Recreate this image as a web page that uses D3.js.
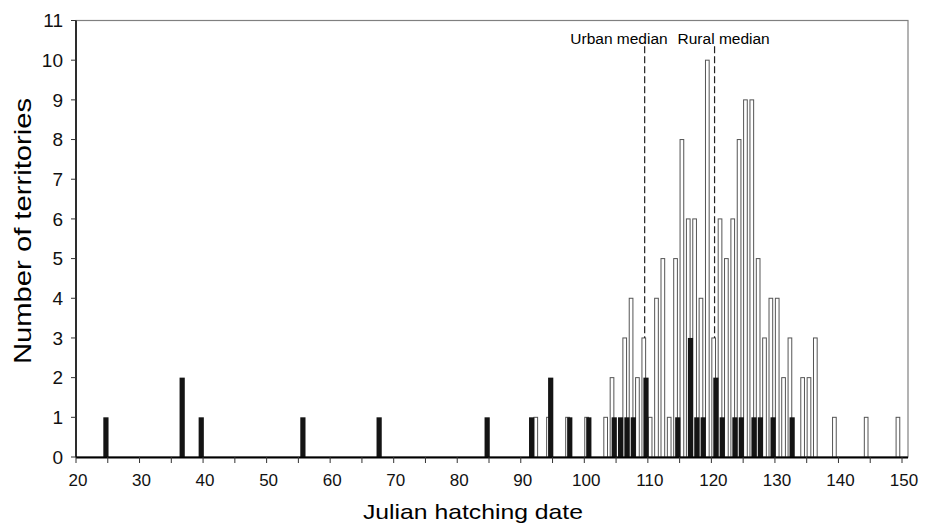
<!DOCTYPE html>
<html>
<head>
<meta charset="utf-8">
<script src="https://cdn.jsdelivr.net/npm/d3@7"></script>
<style>
  body { margin: 0; background: #fff; }
  svg { font-family: "Liberation Sans", Arial, sans-serif; }
</style>
</head>
<body>
<div id="chart"></div>
<script>
// Rural territories (white bars)
const ruralDays   = [92, 94, 97, 100, 103, 104, 106, 107, 108, 109, 110, 111, 112, 113, 114, 115, 116, 117, 118, 119, 120, 121, 122, 123, 124, 125, 126, 127, 128, 129, 130, 131, 132, 134, 135, 136, 139, 144, 149];
const ruralCounts = [1, 1, 1, 1, 1, 2, 3, 4, 2, 3, 1, 4, 5, 1, 5, 8, 6, 6, 4, 10, 3, 6, 5, 6, 8, 9, 9, 5, 3, 4, 4, 2, 3, 2, 2, 3, 1, 1, 1];

// Urban territories (black bars)
const urbanDays   = [24, 36, 39, 55, 67, 84, 91, 94, 97, 100, 104, 105, 106, 107, 109, 114, 116, 117, 118, 120, 121, 123, 124, 126, 127, 129, 132];
const urbanCounts = [1, 2, 1, 1, 1, 1, 1, 2, 1, 1, 1, 1, 1, 1, 2, 1, 3, 1, 1, 2, 1, 1, 1, 1, 1, 1, 1];

// Medians (centre of the category)
const medianLabels = ["Urban median", "Rural median"];
const medianValues = [109.5, 120.5];

const xTicks = d3.range(20, 151, 5);
const xLabels = d3.range(20, 151, 10);
const yTicks = d3.range(0, 12, 1);

const W = 935, H = 527;
const plotL = 76, plotR = 908, plotT = 20.5, plotB = 457;

const svg = d3.select("#chart").append("svg")
  .attr("width", W)
  .attr("height", H);

const x = d3.scaleLinear().domain([20, 150]).range([plotL, 902]);
const y = d3.scaleLinear().domain([0, 11]).range([plotB, plotT]);
const dayW = x(21) - x(20);

// plot frame
svg.append("rect")
  .attr("x", plotL).attr("y", plotT)
  .attr("width", plotR - plotL).attr("height", plotB - plotT)
  .attr("fill", "none").attr("stroke", "#808080").attr("stroke-width", 1.2);

const rural = ruralDays.map((d, i) => ({day: d, n: ruralCounts[i]}));
const urban = urbanDays.map((d, i) => ({day: d, n: urbanCounts[i]}));

// white bars (behind)
svg.append("g").selectAll("rect").data(rural).enter().append("rect")
  .attr("x", d => x(d.day + 0.07))
  .attr("y", d => y(d.n))
  .attr("width", dayW * 0.58)
  .attr("height", d => y(0) - y(d.n))
  .attr("fill", "#fff")
  .attr("stroke", "#555")
  .attr("stroke-width", 1);

// black bars (front)
svg.append("g").selectAll("rect").data(urban).enter().append("rect")
  .attr("x", d => x(d.day + 0.3))
  .attr("y", d => y(d.n))
  .attr("width", dayW * 0.82)
  .attr("height", d => y(0) - y(d.n))
  .attr("fill", "#141414");

// median lines
medianValues.forEach(m => {
  svg.append("line")
    .attr("x1", x(m)).attr("x2", x(m))
    .attr("y1", y(10.35)).attr("y2", y(3))
    .attr("stroke", "#222")
    .attr("stroke-width", 1.2)
    .attr("stroke-dasharray", "7,3");
});
svg.append("text")
  .attr("x", x(medianValues[0]) + 23).attr("y", 43.5)
  .attr("text-anchor", "end")
  .attr("font-size", 15.5)
  .text(medianLabels[0]);
svg.append("text")
  .attr("x", x(medianValues[1]) - 37).attr("y", 43.5)
  .attr("text-anchor", "start")
  .attr("font-size", 15.5)
  .text(medianLabels[1]);

// x axis
const xAxis = svg.append("g");
xAxis.append("line")
  .attr("x1", plotL).attr("x2", plotR)
  .attr("y1", plotB + 0.5).attr("y2", plotB + 0.5)
  .attr("stroke", "#000").attr("stroke-width", 2);
xAxis.selectAll("line.tick").data(xTicks).enter().append("line")
  .attr("class", "tick")
  .attr("x1", d => x(d)).attr("x2", d => x(d))
  .attr("y1", plotB).attr("y2", plotB + 6)
  .attr("stroke", "#333").attr("stroke-width", 1);
xAxis.selectAll("text").data(xLabels).enter().append("text")
  .attr("x", d => x(d) + 2)
  .attr("y", 486)
  .attr("text-anchor", "middle")
  .attr("font-size", 17)
  .attr("fill", "#111")
  .text(d => d);

// y axis
const yAxis = svg.append("g");
yAxis.append("line")
  .attr("x1", plotL).attr("x2", plotL)
  .attr("y1", plotT).attr("y2", plotB)
  .attr("stroke", "#000").attr("stroke-width", 1.5);
yAxis.selectAll("line.tick").data(yTicks).enter().append("line")
  .attr("class", "tick")
  .attr("x1", plotL - 5).attr("x2", plotL)
  .attr("y1", d => y(d)).attr("y2", d => y(d))
  .attr("stroke", "#333").attr("stroke-width", 1);
yAxis.selectAll("text").data(yTicks).enter().append("text")
  .attr("x", 63)
  .attr("y", d => y(d))
  .attr("dy", "0.36em")
  .attr("text-anchor", "end")
  .attr("font-size", 19)
  .attr("fill", "#111")
  .text(d => d);

// axis titles
svg.append("text")
  .attr("x", 473).attr("y", 519)
  .attr("text-anchor", "middle")
  .attr("font-size", 21)
  .attr("textLength", 220)
  .attr("lengthAdjust", "spacingAndGlyphs")
  .text("Julian hatching date");

svg.append("text")
  .attr("transform", "translate(31,231) rotate(-90)")
  .attr("text-anchor", "middle")
  .attr("font-size", 24)
  .attr("textLength", 266)
  .attr("lengthAdjust", "spacingAndGlyphs")
  .text("Number of territories");
</script>
</body>
</html>
